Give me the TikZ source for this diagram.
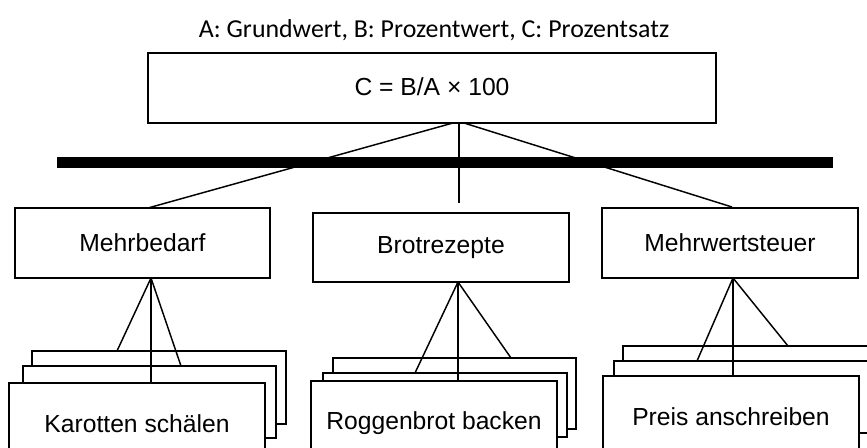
\documentclass[tikz,border=0pt]{standalone}
\usepackage{fontspec}
\setmainfont{Liberation Sans}
\newfontfamily\titlefont{Carlito}
\tikzset{
  px/.style={x=0.75pt,y=-0.75pt},
  boxline/.style={draw=black,line width=1.1pt,fill=white},
  conn/.style={draw=black,line width=1.1pt},
  lbl/.style={font=\fontsize{18.5}{20}\selectfont,inner sep=0pt},
}
\begin{document}
\begin{tikzpicture}[px]
\useasboundingbox (0,0) rectangle (867,448);
\clip (0,0) rectangle (867,448);
% title
\node[inner sep=0pt,font=\titlefont\fontsize{19.4}{22}\selectfont] (title) at (434,30) {A: Grundwert, B: Prozentwert, C: Prozentsatz};
% top box
\draw[boxline] (148,53) rectangle (716,123);
\node[lbl] (top) at (432,87) {C = B/A × 100};
% thick bar
\fill[black] (57,157) rectangle (833,168);
% second level boxes
\draw[boxline] (15,208) rectangle (270,278);
\node[lbl] (mb) at (142.5,243) {Mehrbedarf};
\draw[boxline] (313,213) rectangle (569,282);
\node[lbl] (br) at (441,247.5) {Brotrezepte};
\draw[boxline] (602,208) rectangle (858,278);
\node[lbl] (mw) at (730,243) {Mehrwertsteuer};
% coordinates
\coordinate (tA) at (453,123);
\coordinate (tB) at (459,123);
\coordinate (tC) at (464,123);
\coordinate (tEnd) at (459,203);
\coordinate (mbTop) at (148,208);
\coordinate (mwTop) at (732,207);
\draw[conn] (tA) -- (mbTop);
\draw[conn] (tB) -- (tEnd);
\draw[conn] (tC) -- (mwTop);
% stack 1
\draw[boxline] (32,351) rectangle (286,424);
\draw[boxline] (23,366) rectangle (276,438);
\draw[boxline] (9,383) rectangle (265,470);
\node[lbl] (ks) at (137,424) {Karotten schälen};
% stack 2
\draw[boxline] (333,358) rectangle (576,429);
\draw[boxline] (323,373) rectangle (567,437);
\draw[boxline] (311,381) rectangle (557,470);
\node[lbl] (rb) at (434,423) {Roggenbrot backen};
% stack 3
\draw[boxline] (623,346) rectangle (880,420);
\draw[boxline] (614,361) rectangle (875,433);
\draw[boxline] (603,376) rectangle (859,470);
\node[lbl] (pa) at (731,417) {Preis anschreiben};
% child connectors
\coordinate (mbA) at (151,278);
\coordinate (mb1) at (117,351);
\coordinate (mb2) at (151,383);
\coordinate (mb3) at (181,366);
\draw[conn] (mbA) -- (mb1);
\draw[conn] (mbA) -- (mb2);
\draw[conn] (mbA) -- (mb3);
\coordinate (brA) at (458,282);
\coordinate (br1) at (415,373);
\coordinate (br2) at (458,381);
\coordinate (br3) at (511,358);
\draw[conn] (brA) -- (br1);
\draw[conn] (brA) -- (br2);
\draw[conn] (brA) -- (br3);
\coordinate (mwA) at (733,278);
\coordinate (mw1) at (697,361);
\coordinate (mw2) at (733,376);
\coordinate (mw3) at (788,346);
\draw[conn] (mwA) -- (mw1);
\draw[conn] (mwA) -- (mw2);
\draw[conn] (mwA) -- (mw3);
\end{tikzpicture}
\end{document}
